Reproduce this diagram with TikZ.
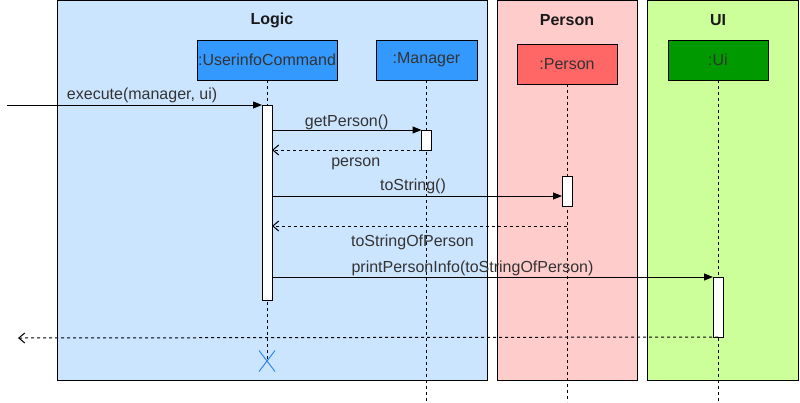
\documentclass[tikz,border=0pt]{standalone}
\usepackage{fontspec}
\setmainfont{Liberation Sans}
\usetikzlibrary{arrows.meta, positioning, shapes.misc, calc}

\definecolor{logicfill}{HTML}{CCE5FF}
\definecolor{personfill}{HTML}{FFCCCC}
\definecolor{uifill}{HTML}{CCFF99}
\definecolor{cmdblue}{HTML}{3399FF}
\definecolor{personred}{HTML}{FF6666}
\definecolor{uigreen}{HTML}{009900}
\definecolor{labeltext}{HTML}{333333}
\definecolor{crossblue}{HTML}{3388DD}

\begin{document}
\begin{tikzpicture}[
    x=1pt, y=-1pt,
    % Define styles
    frame/.style={
        draw=black,
        line width=1pt,
        minimum width=#1,
        minimum height=380pt,
        inner sep=0pt,
        outer sep=0pt
    },
    title/.style={
        font=\fontsize{16}{19}\selectfont\bfseries,
        text=black!90
    },
    participant/.style={
        draw=black,
        line width=1pt,
        fill=#1,
        minimum width=100pt,
        minimum height=40pt,
        inner sep=0pt,
        outer sep=0pt,
        font=\fontsize{16}{19}\selectfont,
        text=labeltext
    },
    activation/.style={
        draw=black,
        line width=1pt,
        fill=white,
        minimum width=10pt,
        minimum height=#1,
        inner sep=0pt,
        outer sep=0pt
    },
    lifeline/.style={
        line width=1pt,
        dash pattern=on 3pt off 3pt
    },
    msg/.style={
        -{Triangle[length=9pt, width=7pt]},
        line width=1pt
    },
    reply/.style={
        -{Straight Barb[length=6pt, width=10pt]},
        line width=1pt,
        dash pattern=on 3pt off 3pt
    },
    msglabel/.style={
        font=\fontsize{16}{19}\selectfont,
        text=labeltext,
        inner sep=2pt
    }
]
\useasboundingbox (0,0) rectangle (800,402);

% ============================================================
% Frames
% ============================================================
\node[frame=430pt, fill=logicfill] (logic) at (272,190) {};
\node[frame=140pt, fill=personfill] (person_frame) at (567,190) {};
\node[frame=151pt, fill=uifill] (ui_frame) at (722.5,190) {};

\node[title] (logic_title) at (272,20) {Logic};
\node[title] (person_title) at (567,20) {Person};
\node[title] (ui_title) at (718,20) {UI};

% ============================================================
% Participants
% ============================================================
\node[participant=cmdblue, minimum width=140pt] (cmd) at (267,60) {:UserinfoCommand};
\node[participant=cmdblue, minimum width=101pt] (manager) at (426.5,60) {:Manager};
\node[participant=personred] (person) at (567,64) {:Person};
\node[participant=uigreen] (ui) at (718,60) {:Ui};

\node[cross out, draw=crossblue, line width=1pt, minimum width=15pt,
      minimum height=20pt, inner sep=0pt] (destroy) at (267,361) {};

% ============================================================
% Lifelines
% ============================================================
\coordinate (manager_end) at (426.5,402);
\coordinate (person_end) at (567,402);
\coordinate (ui_end) at (718,402);

\draw[lifeline] (cmd.south) -- (destroy.center);
\draw[lifeline] (manager.south) -- (manager_end);
\draw[lifeline] (person.south) -- (person_end);
\draw[lifeline] (ui.south) -- (ui_end);

% Activation bars
\node[activation=195pt] (cmd_act) at (267,202.5) {};
\node[activation=20pt] (manager_act) at (426.5,140) {};
\node[activation=30pt] (person_act) at (567,191) {};
\node[activation=60pt] (ui_act) at (718,307) {};

% ============================================================
% Messages
% ============================================================
\coordinate (caller) at (7,105);
\draw[msg] (caller) -- (cmd_act.north west)
    node[msglabel, pos=0.53, above] {execute(manager, ui)};

\draw[msg] (cmd_act.east |- manager_act.north) -- (manager_act.north west)
    node[msglabel, midway, above, yshift=-2pt] {getPerson()};
\draw[reply] (manager_act.south west) -- (cmd_act.east |- manager_act.south)
    node[msglabel, midway, below, xshift=9pt, yshift=-5pt] {person};

\coordinate (tostring_call) at ($(person_act.north west)+(0,20)$);
\draw[msg] (cmd_act.east |- tostring_call) -- (tostring_call)
    node[msglabel, midway, above, xshift=-4pt] {toString()};
\coordinate (tostring_back) at ($(person_act.south)+(0,20)$);
\draw[reply] (tostring_back) -- (cmd_act.east |- tostring_back)
    node[msglabel, midway, below, yshift=-6pt, xshift=-7pt] {toStringOfPerson};

\draw[msg] (cmd_act.east |- ui_act.north) -- (ui_act.north west)
    node[msglabel, midway, above, xshift=-20pt, yshift=-1pt] {printPersonInfo(toStringOfPerson)};

% Result back to the caller
\coordinate (result) at (18,338);
\draw[reply] (ui_act.south) -- (result);

\end{tikzpicture}
\end{document}
